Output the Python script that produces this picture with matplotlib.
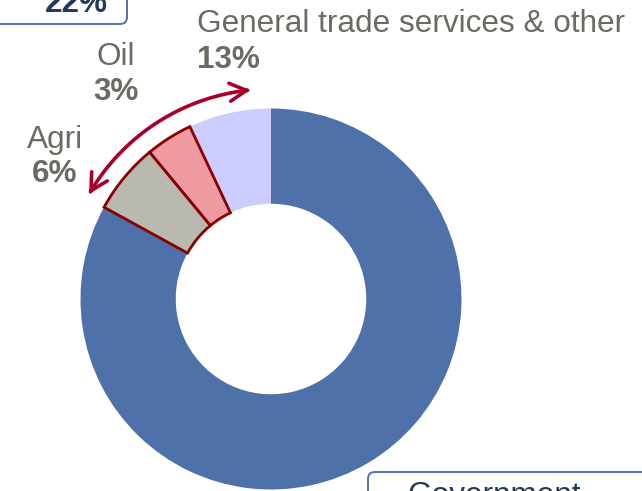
import numpy as np
import matplotlib.pyplot as plt
from matplotlib.patches import FancyArrowPatch, FancyBboxPatch
from matplotlib.path import Path

# slices, counterclockwise from 12 o'clock
slice_names = ["Other", "Oil", "Agri", "Government"]
slice_values = [7, 4, 6, 83]
slice_colors = ["#CCCCFF", "#EE9AA0", "#B9B9AF", "#4F71AA"]
outlined = ["Oil", "Agri"]

label_group = "General trade services & other"
label_group_pct = "13%"
label_oil, label_oil_pct = "Oil", "3%"
label_agri, label_agri_pct = "Agri", "6%"
label_top_box = "22%"
label_bottom_box = "Government"

W, H = 642, 491
GREY = "#6B6B63"
NAVY = "#1F3A5C"
BOXBLUE = "#4F71AA"
ARROW = "#A6002A"

plt.rcParams['font.family'] = ['Liberation Sans', 'DejaVu Sans']

fig = plt.figure(figsize=(W / 100, H / 100), dpi=100)
ax = fig.add_axes([0, 0, 1, 1])

cx, cy = 271, H - 299
R = 190.5

wedges, _ = ax.pie(slice_values, colors=slice_colors, startangle=90, counterclock=True,
                   radius=R, center=(cx, cy), frame=True,
                   wedgeprops=dict(width=R / 2, linewidth=0))
for w, name in zip(wedges, slice_names):
    if name in outlined:
        w.set_edgecolor("#880000")
        w.set_linewidth(2.0)
        w.set_zorder(3)

# curved double arrow over the three small slices
theta = np.radians(np.linspace(95.7, 150, 80))
ra = 210
verts = np.column_stack([cx + ra * np.cos(theta), cy + ra * np.sin(theta)])
arr = FancyArrowPatch(path=Path(verts), arrowstyle="<->,head_length=12,head_width=6.5",
                      color=ARROW, lw=2.6, zorder=4)
ax.add_patch(arr)

fs = 22.7
ax.text(197, H - 32, label_group, fontsize=fs, color=GREY, ha="left", va="baseline")
ax.text(197, H - 68, label_group_pct, fontsize=fs, color=GREY, ha="left", va="baseline",
        fontweight="bold")
ax.text(116, H - 65, label_oil, fontsize=fs, color=GREY, ha="center", va="baseline")
ax.text(116, H - 100, label_oil_pct, fontsize=fs, color=GREY, ha="center", va="baseline",
        fontweight="bold")
ax.text(55, H - 148, label_agri, fontsize=fs, color=GREY, ha="center", va="baseline")
ax.text(55, H - 182, label_agri_pct, fontsize=fs, color=GREY, ha="center", va="baseline",
        fontweight="bold")

# boxes cut off by the image edge
top_box = FancyBboxPatch((-60, H - 24), 187, 60, boxstyle="round,pad=0,rounding_size=7",
                         fc="white", ec=BOXBLUE, lw=1.4, clip_on=False)
ax.add_patch(top_box)
ax.text(108, H - 12, label_top_box, fontsize=fs, color=NAVY, ha="right", va="baseline",
        fontweight="bold")

bot_box = FancyBboxPatch((368, -60), 320, H - 472 + 60, boxstyle="round,pad=0,rounding_size=7",
                         fc="white", ec=BOXBLUE, lw=1.4, clip_on=False, zorder=5)
ax.add_patch(bot_box)
ax.text(407, H - 504, label_bottom_box, fontsize=fs, color=NAVY, ha="left", va="baseline",
        zorder=6)

ax.set_xlim(0, W)
ax.set_ylim(0, H)
ax.set_aspect("equal")
ax.axis("off")

fig.savefig("out.png", dpi=100)
